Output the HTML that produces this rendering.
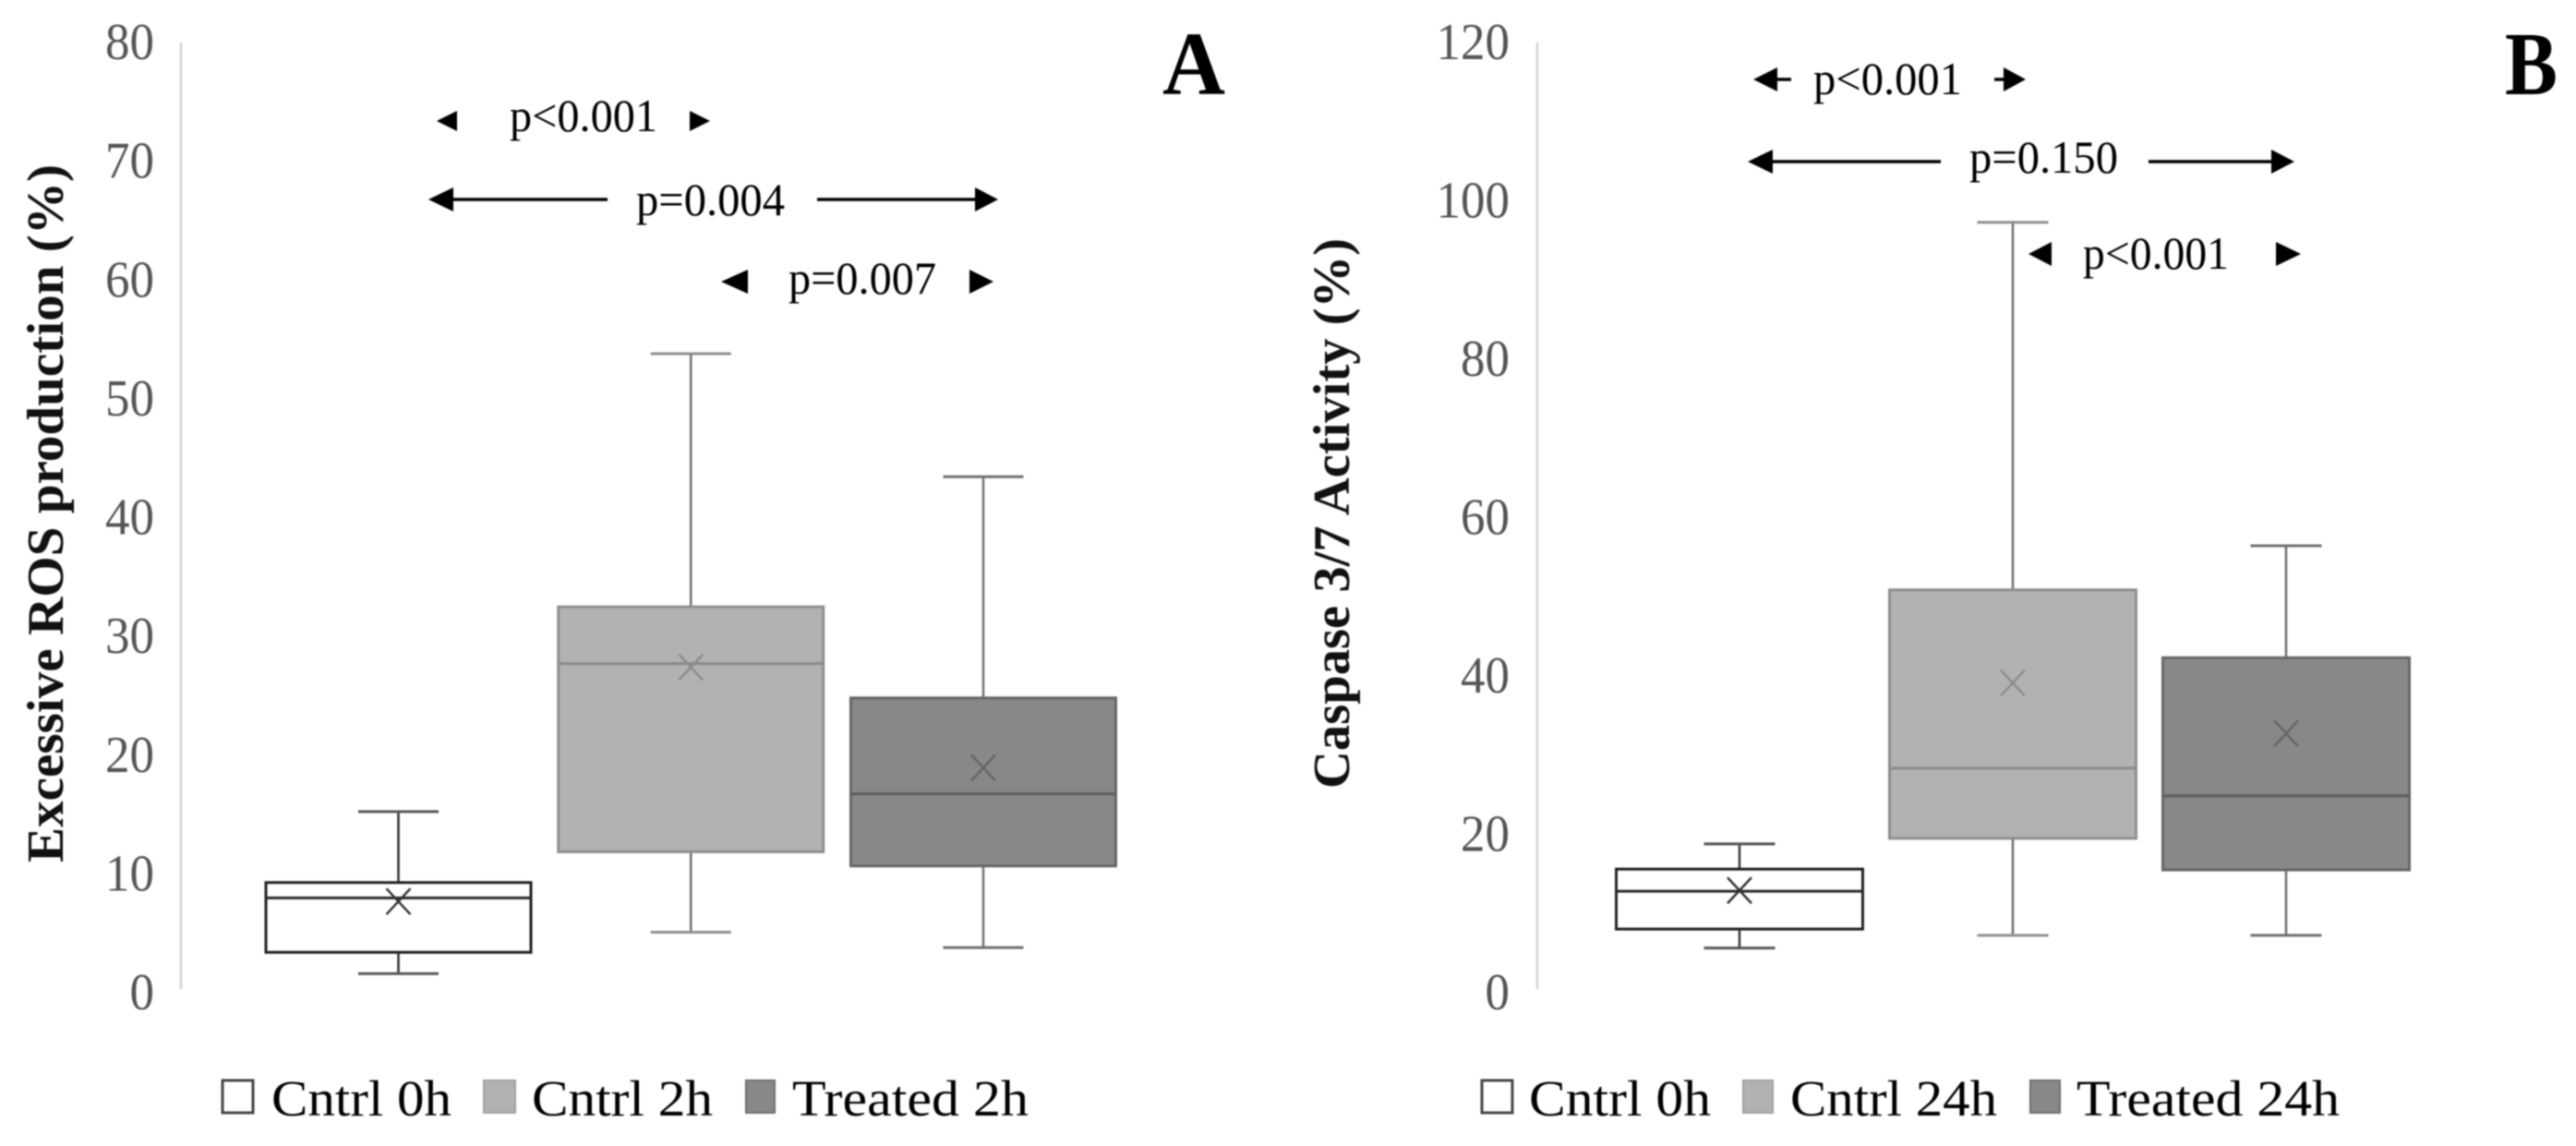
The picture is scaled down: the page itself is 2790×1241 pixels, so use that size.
<!DOCTYPE html>
<html lang="en">
<head>
<meta charset="utf-8">
<title>Excessive ROS production and Caspase 3/7 Activity box plots</title>
<style>
html,body{margin:0;padding:0;background:#fff;width:2790px;height:1241px;overflow:hidden}
svg{display:block;filter:blur(0.8px)}
text{font-family:"Liberation Serif",serif}
.tick{font-size:56px;fill:#555555}
.ytitle{font-size:56px;font-weight:bold;fill:#111}
.p{font-size:50px;fill:#000}
.leg{font-size:55px;fill:#000}
.panel{font-size:97px;font-weight:bold;fill:#000}
</style>
</head>
<body>
<svg id="chart" xmlns="http://www.w3.org/2000/svg" width="2790" height="1241" viewBox="0 0 2790 1241">
  <rect width="2790" height="1241" fill="#fff"/>

  <g id="panel-a"></g>
  <g id="panel-b"></g>

  <text class="ytitle" transform="translate(68,934) rotate(-90)" textLength="756" lengthAdjust="spacingAndGlyphs">Excessive ROS production (%)</text>
  <text class="ytitle" transform="translate(1461,854) rotate(-90)" textLength="596" lengthAdjust="spacingAndGlyphs">Caspase 3/7 Activity (%)</text>

  <text class="panel" x="1259" y="102" textLength="68" lengthAdjust="spacingAndGlyphs">A</text>
  <text class="panel" x="2713" y="102" textLength="57" lengthAdjust="spacingAndGlyphs">B</text>

  <!-- Panel A significance annotations -->
  <g>
    <polygon points="473,131 495,120 495,142" fill="#000"/>
    <text class="p" x="552" y="142" textLength="160" lengthAdjust="spacingAndGlyphs">p&lt;0.001</text>
    <polygon points="769,131 747,120 747,142" fill="#000"/>
  </g>
  <g>
    <line x1="485" y1="216" x2="658" y2="216" stroke="#000" stroke-width="3.5"/>
    <polygon points="464,216 491,203 491,229" fill="#000"/>
    <text class="p" x="689" y="233" textLength="161" lengthAdjust="spacingAndGlyphs">p=0.004</text>
    <line x1="885" y1="216" x2="1060" y2="216" stroke="#000" stroke-width="3.5"/>
    <polygon points="1081,216 1056,203 1056,229" fill="#000"/>
  </g>
  <g>
    <polygon points="781,305 810,292 810,318" fill="#000"/>
    <text class="p" x="854" y="318" textLength="160" lengthAdjust="spacingAndGlyphs">p=0.007</text>
    <polygon points="1076,305 1050,292 1050,318" fill="#000"/>
  </g>

  <!-- Panel B significance annotations -->
  <g>
    <line x1="1915" y1="86" x2="1940" y2="86" stroke="#000" stroke-width="3.5"/>
    <polygon points="1899,86 1925,73 1925,99" fill="#000"/>
    <text class="p" x="1964" y="102" textLength="161" lengthAdjust="spacingAndGlyphs">p&lt;0.001</text>
    <line x1="2160" y1="86" x2="2175" y2="86" stroke="#000" stroke-width="3.5"/>
    <polygon points="2194,86 2170,73 2170,99" fill="#000"/>
  </g>
  <g>
    <line x1="1912" y1="175" x2="2102" y2="175" stroke="#000" stroke-width="3.5"/>
    <polygon points="1893,175 1920,162 1920,188" fill="#000"/>
    <text class="p" x="2133" y="187" textLength="161" lengthAdjust="spacingAndGlyphs">p=0.150</text>
    <line x1="2327" y1="175" x2="2465" y2="175" stroke="#000" stroke-width="3.5"/>
    <polygon points="2485,175 2460,162 2460,188" fill="#000"/>
  </g>
  <g>
    <polygon points="2197,275 2222,262 2222,288" fill="#000"/>
    <text class="p" x="2256" y="291" textLength="158" lengthAdjust="spacingAndGlyphs">p&lt;0.001</text>
    <polygon points="2492,275 2465,262 2465,288" fill="#000"/>
  </g>

  <!-- Legends -->
  <g>
    <g>
      <rect x="241" y="1170" width="33" height="35" fill="#fff" stroke="#444" stroke-width="3"/>
      <text class="leg" x="294" y="1208" textLength="195" lengthAdjust="spacingAndGlyphs">Cntrl 0h</text>
    </g>
    <g>
      <rect x="524" y="1170" width="34" height="35" fill="#b2b2b2" stroke="#a0a0a0" stroke-width="2"/>
      <text class="leg" x="576" y="1208" textLength="196" lengthAdjust="spacingAndGlyphs">Cntrl 2h</text>
    </g>
    <g>
      <rect x="808" y="1170" width="31" height="35" fill="#888888" stroke="#6e6e6e" stroke-width="2"/>
      <text class="leg" x="858" y="1208" textLength="256" lengthAdjust="spacingAndGlyphs">Treated 2h</text>
    </g>
  </g>
  <g>
    <g>
      <rect x="1605" y="1170" width="33" height="35" fill="#fff" stroke="#444" stroke-width="3"/>
      <text class="leg" x="1656" y="1208" textLength="197" lengthAdjust="spacingAndGlyphs">Cntrl 0h</text>
    </g>
    <g>
      <rect x="1888" y="1170" width="32" height="35" fill="#b2b2b2" stroke="#a0a0a0" stroke-width="2"/>
      <text class="leg" x="1939" y="1208" textLength="224" lengthAdjust="spacingAndGlyphs">Cntrl 24h</text>
    </g>
    <g>
      <rect x="2199" y="1170" width="32" height="35" fill="#888888" stroke="#6e6e6e" stroke-width="2"/>
      <text class="leg" x="2249" y="1208" textLength="285" lengthAdjust="spacingAndGlyphs">Treated 24h</text>
    </g>
  </g>
</svg>

<script>
// Panel A values
const categoriesA = ["Cntrl 0h", "Cntrl 2h", "Treated 2h"];
const ticksA = [0, 10, 20, 30, 40, 50, 60, 70, 80];
const whiskerLowA = [1.3, 4.8, 3.5];
const q1A = [3.1, 11.6, 10.4];
const medianA = [7.7, 27.5, 16.5];
const q3A = [9.0, 32.3, 24.6];
const whiskerHighA = [15.0, 53.7, 43.3];
const meanA = [7.4, 27.2, 18.7];

// Panel B values
const categoriesB = ["Cntrl 0h", "Cntrl 24h", "Treated 24h"];
const ticksB = [0, 20, 40, 60, 80, 100, 120];
const whiskerLowB = [5.2, 6.8, 6.8];
const q1B = [7.6, 19.1, 15.1];
const medianB = [12.4, 28.0, 24.5];
const q3B = [15.2, 50.6, 42.0];
const whiskerHighB = [18.4, 97.2, 56.2];
const meanB = [12.5, 38.8, 32.4];

const NS = "http://www.w3.org/2000/svg";

function make(parent, tag, attrs) {
  const el = document.createElementNS(NS, tag);
  for (const k in attrs) el.setAttribute(k, attrs[k]);
  parent.appendChild(el);
  return el;
}

function styleFor(i) {
  if (i === 0) return { fill: "#ffffff", edge: "#222222", whisker: "#333333", cap: "#555555", mean: "#333333", median: "#2a2a2a" };
  if (i === 1) return { fill: "#b2b2b2", edge: "#8e8e8e", whisker: "#6e6e6e", cap: "#8e8e8e", mean: "#8c8c8c", median: "#8a8a8a" };
  return { fill: "#888888", edge: "#666666", whisker: "#707070", cap: "#6e6e6e", mean: "#666666", median: "#5e5e5e" };
}

function drawPanel(cfg) {
  const root = document.getElementById(cfg.id);
  const maxTick = cfg.ticks[cfg.ticks.length - 1];
  const y = v => cfg.y0 - (v / maxTick) * (cfg.y0 - cfg.y1);
  const x = i => cfg.x0 + cfg.step * i;

  const axis = make(root, "line", { x1: cfg.axisX, x2: cfg.axisX, y1: y(maxTick), y2: y(0), stroke: "#d8d8d8", "stroke-width": 3 });
  
  

  cfg.ticks.forEach(t => {
    const label = make(root, "text", { class: "tick", x: cfg.labelX, y: y(t) + 18 + 4 * (1 - t / maxTick), "text-anchor": "end", textLength: 26.5 * String(t).length, lengthAdjust: "spacingAndGlyphs" });
    label.textContent = String(t);
    
    
  });

  cfg.categories.forEach((cat, i) => {
    const s = styleFor(i);
    const cx = x(i);
    const left = cx - cfg.boxW / 2;
    const right = cx + cfg.boxW / 2;

    const g = make(root, "g", {});
    
    

    const whiskerUp = make(g, "line", { x1: cx, x2: cx, y1: y(cfg.whiskerHigh[i]), y2: y(cfg.q3[i]), stroke: s.whisker, "stroke-width": 2.5 });
    
    

    const whiskerDown = make(g, "line", { x1: cx, x2: cx, y1: y(cfg.q1[i]), y2: y(cfg.whiskerLow[i]), stroke: s.whisker, "stroke-width": 2.5 });
    
    

    const capUp = make(g, "line", { x1: cx - cfg.capW / 2, x2: cx + cfg.capW / 2, y1: y(cfg.whiskerHigh[i]), y2: y(cfg.whiskerHigh[i]), stroke: s.cap, "stroke-width": 3 });
    
    

    const capDown = make(g, "line", { x1: cx - cfg.capW / 2, x2: cx + cfg.capW / 2, y1: y(cfg.whiskerLow[i]), y2: y(cfg.whiskerLow[i]), stroke: s.cap, "stroke-width": 3 });
    
    

    const rect = make(g, "rect", { x: left, width: cfg.boxW, y: y(cfg.q3[i]), height: y(cfg.q1[i]) - y(cfg.q3[i]), fill: s.fill, stroke: s.edge, "stroke-width": 3 });
    
    

    const med = make(g, "line", { x1: left, x2: right, y1: y(cfg.median[i]), y2: y(cfg.median[i]), stroke: s.median, "stroke-width": 3 });
    
    

    const my = y(cfg.mean[i]);
    const meanMark = make(g, "path", { d: `M${cx - 13} ${my - 14}L${cx + 13} ${my + 14}M${cx + 13} ${my - 14}L${cx - 13} ${my + 14}`, fill: "none", stroke: s.mean, "stroke-width": 2.5 });
    
    
  });
}

drawPanel({
  id: "panel-a", categories: categoriesA, ticks: ticksA,
  whiskerLow: whiskerLowA, q1: q1A, median: medianA, q3: q3A, whiskerHigh: whiskerHighA, mean: meanA,
  y0: 1071, y1: 46, axisX: 196, labelX: 167, x0: 431.5, step: 316.75, boxW: 287, capW: 87
});

drawPanel({
  id: "panel-b", categories: categoriesB, ticks: ticksB,
  whiskerLow: whiskerLowB, q1: q1B, median: medianB, q3: q3B, whiskerHigh: whiskerHighB, mean: meanB,
  y0: 1071, y1: 46, axisX: 1665, labelX: 1635, x0: 1884, step: 296, boxW: 267, capW: 77
});
</script>
</body>
</html>
